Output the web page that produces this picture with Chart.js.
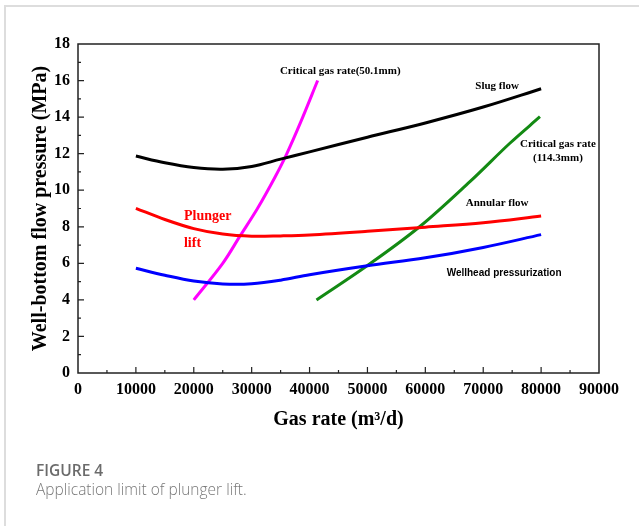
<!DOCTYPE html>
<html>
<head>
<meta charset="utf-8">
<script src="https://cdn.jsdelivr.net/npm/chart.js@4.4.1/dist/chart.umd.min.js"></script>
<style>
    body { margin: 0; background: #fff; }
    .frame { position: absolute; left: 4px; top: 5px; width: 640px; height: 530px; border-top: 2px solid #ddd; border-left: 2px solid #ddd; }
    #chartBox { position: absolute; left: 0; top: 0; width: 639px; height: 526px; }
    .fig-no { position: absolute; left: 36px; top: 459px; font: 600 15.5px "Open Sans", sans-serif; color: #6b6b6b; }
    .fig-cap { position: absolute; left: 36px; top: 478px; font: 300 15.5px "Open Sans", sans-serif; color: #777; }
</style>
</head>
<body>
<div class="frame"></div>
<div id="chartBox"><canvas id="lineChart" width="639" height="526"></canvas></div>
<div class="fig-no">FIGURE 4</div>
<div class="fig-cap">Application limit of plunger lift.</div>

<script>
// 資料 //
var gasRate = [10000, 15000, 20000, 25000, 30000, 35000, 40000, 50000, 60000, 70000, 80000];
var slugFlow = [11.87, 11.5, 11.24, 11.15, 11.3, 11.7, 12.1, 12.9, 13.68, 14.55, 15.55];
var annularFlow = [9.01, 8.4, 7.9, 7.6, 7.48, 7.5, 7.55, 7.75, 7.98, 8.22, 8.59];
var wellheadPress = [5.73, 5.35, 5.03, 4.87, 4.88, 5.08, 5.38, 5.87, 6.3, 6.87, 7.57];

var crit50Rate = [20000, 25000, 28000, 31000, 34000, 36000, 38500, 41400];
var crit50Press = [4.0, 6.0, 7.5, 9.0, 10.7, 11.95, 13.75, 16.0];

var crit114Rate = [41200, 50000, 59000, 67700, 74600, 79800];
var crit114Press = [4.0, 5.88, 8.0, 10.47, 12.57, 14.02];

var xTicks = [0, 10000, 20000, 30000, 40000, 50000, 60000, 70000, 80000, 90000];
var yTicks = [0, 2, 4, 6, 8, 10, 12, 14, 16, 18];

// 圖上文字 (x, y 為資料座標) //
var labels = [
    { text: 'Critical gas rate(50.1mm)', x: 45300, y: 16.54, color: '#000', font: 'bold 11px "Liberation Serif"', align: 'center' },
    { text: 'Slug flow', x: 72400, y: 15.7, color: '#000', font: 'bold 11px "Liberation Serif"', align: 'center' },
    { text: 'Critical gas rate', x: 82900, y: 12.53, color: '#000', font: 'bold 11px "Liberation Serif"', align: 'center' },
    { text: '(114.3mm)', x: 82900, y: 11.76, color: '#000', font: 'bold 11px "Liberation Serif"', align: 'center' },
    { text: 'Annular flow', x: 72400, y: 9.3, color: '#000', font: 'bold 11px "Liberation Serif"', align: 'center' },
    { text: 'Wellhead pressurization', x: 73600, y: 5.47, color: '#000', font: 'bold 10px "Liberation Sans"', align: 'center' },
    { text: 'Plunger', x: 18300, y: 8.55, color: '#ff0000', font: 'bold 14px "Liberation Serif"', align: 'left' },
    { text: 'lift', x: 18300, y: 7.08, color: '#ff0000', font: 'bold 14px "Liberation Serif"', align: 'left' }
];

function toPoints(xs, ys) {
    var pts = [];
    for (var i = 0; i < xs.length; i++) {
        pts.push({ x: xs[i], y: ys[i] });
    }
    return pts;
}

function makeLine(xs, ys, color) {
    return {
        data: toPoints(xs, ys),
        borderColor: color,
        borderWidth: 3,
        pointRadius: 0,
        fill: false,
        tension: 0.35
    };
}

// 邊框、內側刻度、文字 //
var framePlugin = {
    id: 'framePlugin',
    afterDraw: function (chart) {
        var ctx = chart.ctx;
        var area = chart.chartArea;
        var xs = chart.scales.x;
        var ys = chart.scales.y;
        ctx.save();
        ctx.strokeStyle = '#222';
        ctx.lineWidth = 1.5;
        ctx.strokeRect(area.left, area.top, area.right - area.left, area.bottom - area.top);

        ctx.lineWidth = 1.2;
        ctx.beginPath();
        for (var v = 5000; v < 90000; v += 5000) {
            var px = xs.getPixelForValue(v);
            var len = (v % 10000 === 0) ? 6 : 3;
            ctx.moveTo(px, area.bottom);
            ctx.lineTo(px, area.bottom - len);
        }
        for (var w = 1; w < 18; w++) {
            var py = ys.getPixelForValue(w);
            var len2 = (w % 2 === 0) ? 6 : 3;
            ctx.moveTo(area.left, py);
            ctx.lineTo(area.left + len2, py);
        }
        ctx.stroke();

        ctx.textBaseline = 'middle';
        for (var i = 0; i < labels.length; i++) {
            var lb = labels[i];
            ctx.font = lb.font;
            ctx.fillStyle = lb.color;
            ctx.textAlign = lb.align;
            ctx.fillText(lb.text, xs.getPixelForValue(lb.x), ys.getPixelForValue(lb.y));
        }
        ctx.restore();
    }
};

var tickFont = { family: 'Liberation Serif', size: 16, weight: 'bold' };

var ctx = document.getElementById('lineChart').getContext('2d');
var myLineChart = new Chart(ctx, {
    type: 'line',
    data: {
        datasets: [
            makeLine(gasRate, slugFlow, '#000000'),
            makeLine(gasRate, annularFlow, '#ff0000'),
            makeLine(gasRate, wellheadPress, '#0000ff'),
            makeLine(crit50Rate, crit50Press, '#ff00ff'),
            makeLine(crit114Rate, crit114Press, '#138a13')
        ]
    },
    options: {
        responsive: false,
        animation: false,
        layout: { padding: { left: 0, top: 44, right: 40, bottom: 93 } },
        plugins: { legend: { display: false }, tooltip: { enabled: false } },
        scales: {
            x: {
                type: 'linear',
                min: 0,
                max: 90000,
                afterBuildTicks: function (scale) {
                    scale.ticks = xTicks.map(function (v) { return { value: v }; });
                },
                afterFit: function (scale) { scale.height = 60; },
                grid: { display: false, drawTicks: false },
                border: { display: false },
                ticks: { font: tickFont, color: '#000', padding: 7, maxRotation: 0, autoSkip: false,
                    callback: function (v) { return String(v); } },
                title: { display: true, text: 'Gas rate (m³/d)', color: '#000',
                    font: { family: 'Liberation Serif', size: 20, weight: 'bold' }, padding: { top: 0, bottom: 1 } }
            },
            y: {
                min: 0,
                max: 18,
                afterBuildTicks: function (scale) {
                    scale.ticks = yTicks.map(function (v) { return { value: v }; });
                },
                afterFit: function (scale) { scale.width = 78; },
                grid: { display: false, drawTicks: false },
                border: { display: false },
                ticks: { font: tickFont, color: '#000', padding: 8, autoSkip: false },
                title: { display: true, text: 'Well-bottom flow pressure (MPa)', color: '#000',
                    font: { family: 'Liberation Serif', size: 20, weight: 'bold' }, padding: { top: 29, bottom: 0 } }
            }
        }
    },
    plugins: [framePlugin]
});
</script>
</body>
</html>
